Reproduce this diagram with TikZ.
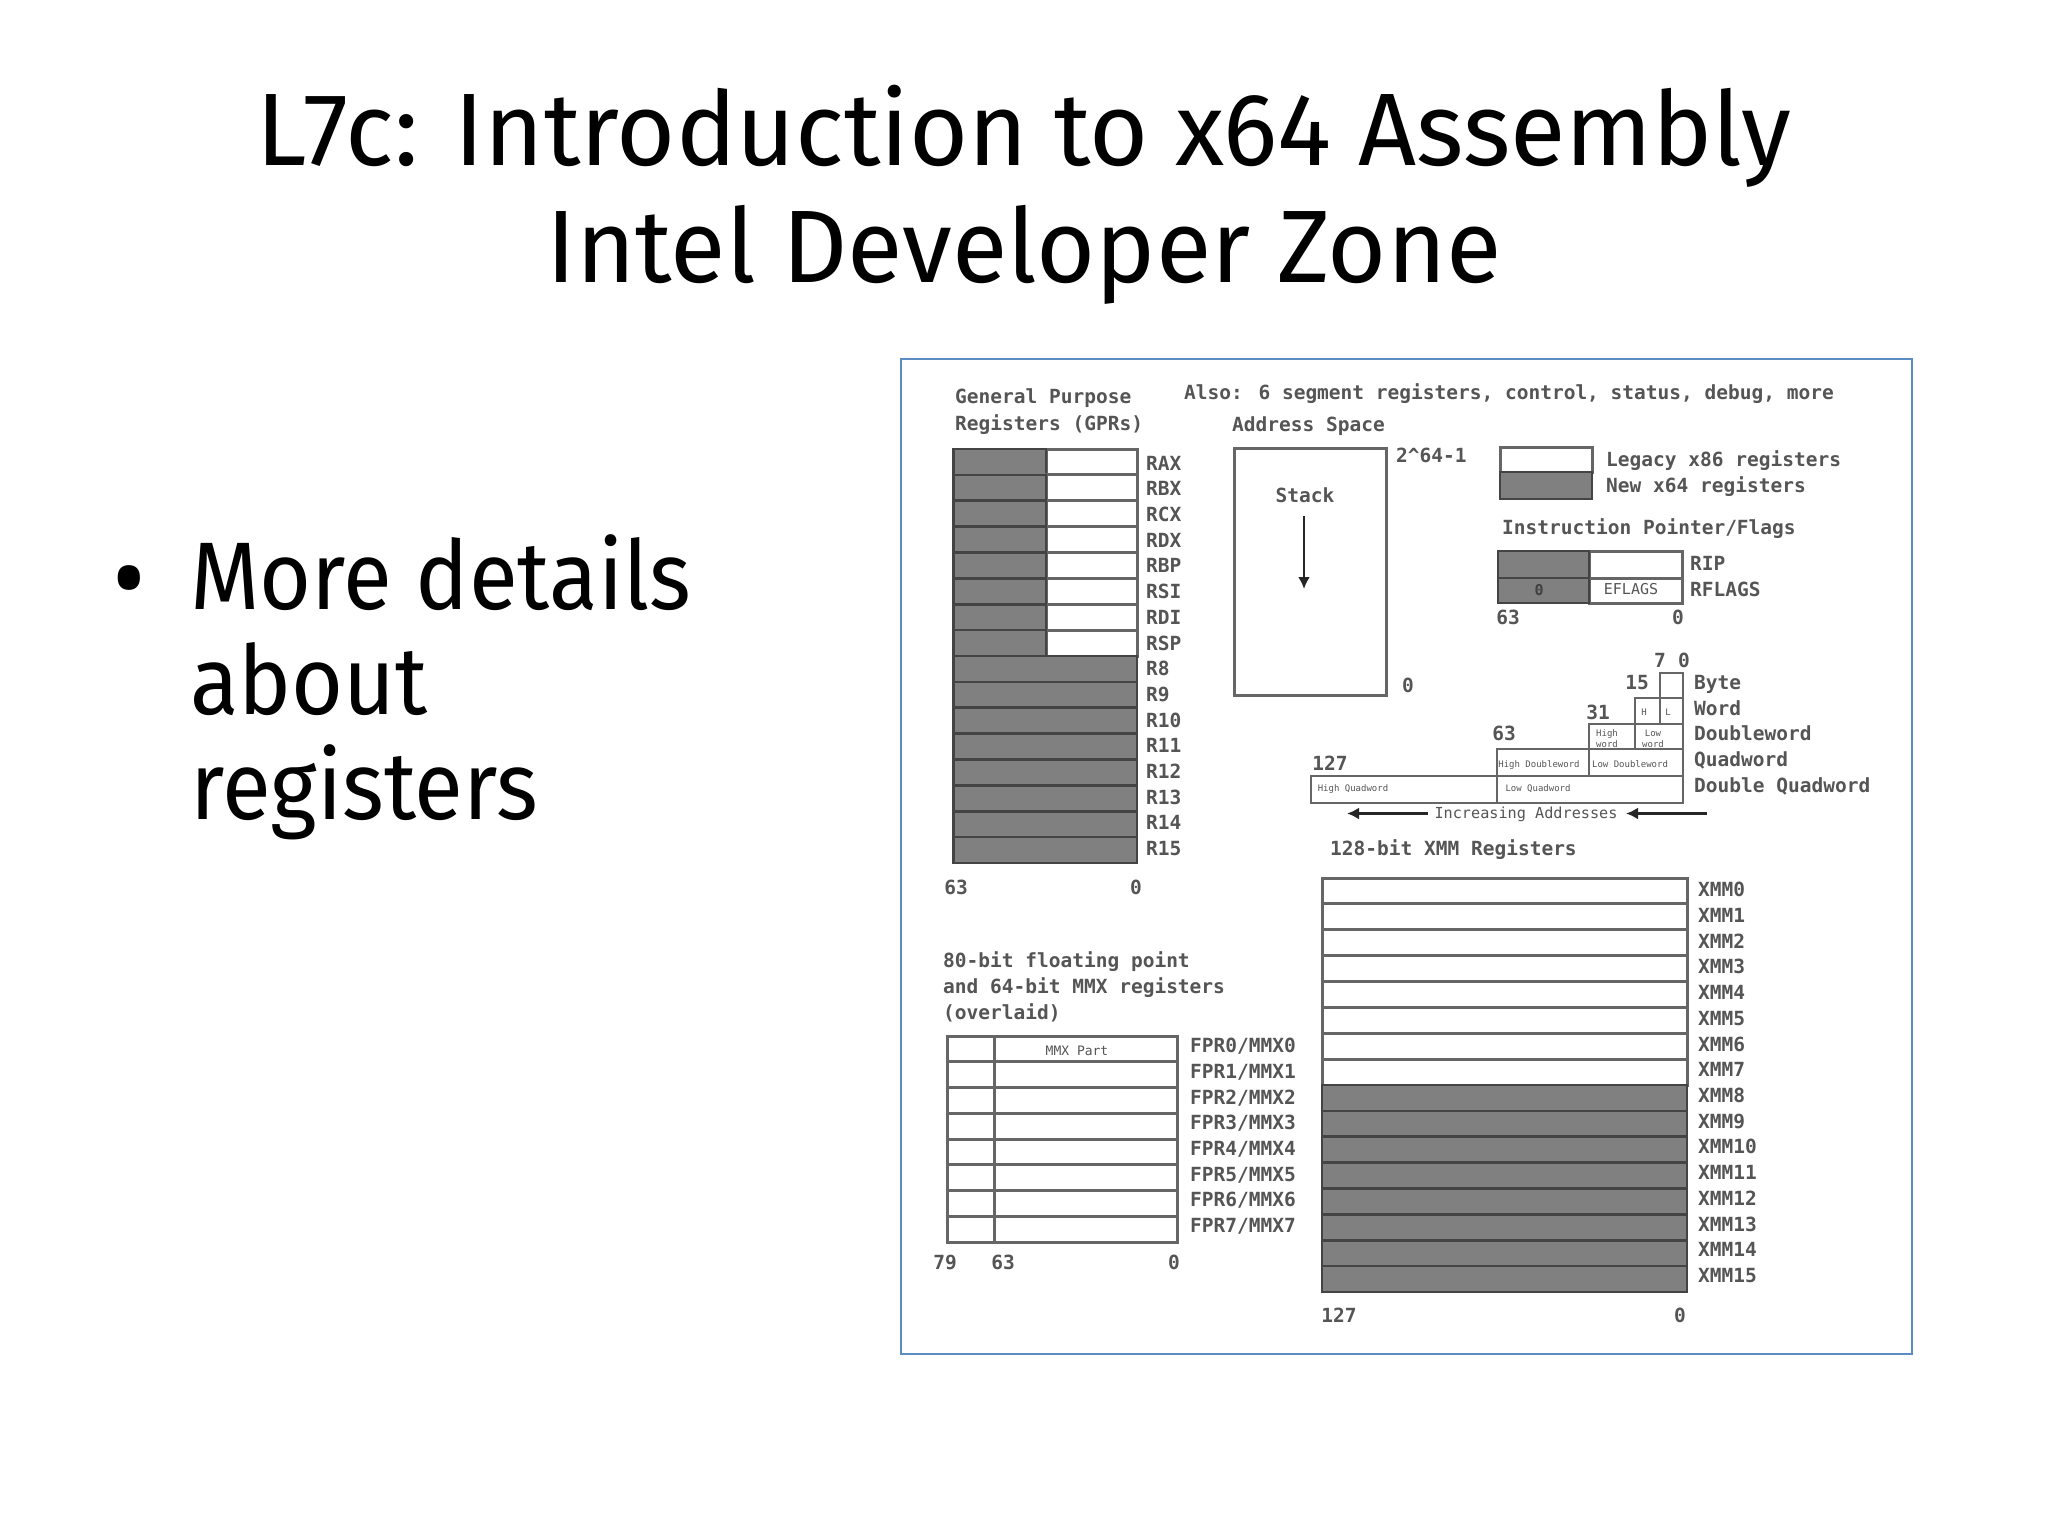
\documentclass[tikz,border=0pt]{standalone}
\usepackage{fontspec}
\setmainfont{Noto Sans}
\newfontfamily\regmono{DejaVu Sans Mono}
\newfontfamily\titlefont[FakeStretch=0.984]{Fira Sans}
\newfontfamily\bodyfont[FakeStretch=0.93]{Fira Sans}
\usetikzlibrary{arrows.meta}
\definecolor{ink}{HTML}{555555}
\definecolor{regline}{HTML}{666666}
\definecolor{darkline}{HTML}{444444}
\definecolor{regfill}{HTML}{808080}
\definecolor{frameblue}{HTML}{5B8DC4}
\newcommand{\regsize}[1]{\regmono\bfseries\fontsize{#1}{#1}\selectfont}
\newcommand{\smallsize}[1]{\regmono\fontsize{#1}{#1}\selectfont}
\tikzset{
  lbl/.style={font=\regsize{19.5},text=ink,inner sep=0pt,anchor=mid west,yshift=-4pt},
  num/.style={font=\regsize{19.5},text=ink,inner sep=0pt,anchor=mid,yshift=-4pt},
  tiny/.style={font=\smallsize{9},text=ink,inner sep=0pt,anchor=mid,yshift=-1.5pt},
  oldreg/.style={draw=regline,line width=3pt,fill=white},
  newreg/.style={draw=darkline,line width=2.6pt,fill=regfill},
  thinreg/.style={draw=regline,line width=2.4pt,fill=white},
  arr/.style={draw=black!85,line width=2.4pt,-{Latex[length=12pt,width=12pt]}},
  slidetitle/.style={font=\titlefont\fontsize{103}{103}\selectfont,text=black,inner sep=0pt,anchor=base},
  bodytext/.style={font=\bodyfont\fontsize{96}{96}\selectfont,text=black,inner sep=0pt,anchor=base west},
  bulletmark/.style={font=\fontsize{100}{100}\selectfont,text=black,inner sep=0pt,anchor=center}
}
\begin{document}
\begin{tikzpicture}[x=1pt,y=-1pt]
\useasboundingbox (0,0) rectangle (2048,1536);
\fill[white] (0,0) rectangle (2048,1536);
% slide text
\node[slidetitle] (title1) at (1024,165) {L7c: Introduction to x64 Assembly};
\node[slidetitle] (title2) at (1024,282) {Intel Developer Zone};
\node[bulletmark] (bullet) at (129,590) {•};
\node[bodytext] (body1) at (190,609) {More details};
\node[bodytext] (body2) at (190,714) {about};
\node[bodytext] (body3) at (190,819) {registers};
% frame
\draw[frameblue,line width=2pt] (901,358.5) rectangle (1912,1354);
% top notes
\node[lbl] (gprtitle1) at (955,397) {General Purpose};
\node[lbl] (gprtitle2) at (955,424) {Registers (GPRs)};
\node[lbl] (also) at (1184,393) {Also: 6 segment registers, control, status, debug, more};
\node[lbl] (addrtitle) at (1232,425) {Address Space};
% GPRs
\foreach \n [count=\i from 0] in {RAX,RBX,RCX,RDX,RBP,RSI,RDI,RSP}{
  \draw[oldreg] (1046,449+25.875*\i) rectangle (1137,449+25.875*\i+25.875);
  \draw[newreg] (953.5,449+25.875*\i) rectangle (1046,449+25.875*\i+25.875);
  \node[lbl] (gpr\n) at (1146,463.5+25.7*\i) {\n};
}
\foreach \n [count=\i from 8] in {R8,R9,R10,R11,R12,R13,R14,R15}{
  \draw[newreg] (953.5,449+25.875*\i) rectangle (1137,449+25.875*\i+25.875);
  \node[lbl] (gpr\n) at (1146,463.5+25.7*\i) {\n};
}
\node[num] (gprhi) at (956,888) {63};
\node[num] (gprlo) at (1136,888) {0};
% address space
\draw[oldreg] (1234,448) rectangle (1386,695);
\node[lbl] (addrtop) at (1396,456) {2\char`\^64-1};
\node[num] (addrzero) at (1408,686) {0};
\node[num] (stack) at (1305,496) {Stack};
\coordinate (stackA) at (1304,516);
\coordinate (stackB) at (1304,589);
\draw[arr] (stackA) -- (stackB);
% legend
\draw[oldreg] (1500,447) rectangle (1592,472);
\draw[newreg] (1500,472) rectangle (1592,499);
\node[lbl] (legold) at (1606,460) {Legacy x86 registers};
\node[lbl] (legnew) at (1606,486) {New x64 registers};
% RIP / RFLAGS
\node[lbl] (iptitle) at (1502,528) {Instruction Pointer/Flags};
\draw[oldreg] (1589,551) rectangle (1682,578);
\draw[oldreg] (1589,578) rectangle (1682,603);
\draw[newreg] (1498,551) rectangle (1589,578);
\draw[newreg] (1498,578) rectangle (1589,603);
\node[num,font=\regsize{15},text=black!75] (rfzero) at (1539,589) {0};
\node[num,font=\smallsize{15},yshift=1pt] (eflags) at (1631,589) {EFLAGS};
\node[lbl] (rip) at (1690,564) {RIP};
\node[lbl] (rflags) at (1690,590) {RFLAGS};
\node[num] (iphi) at (1508,618) {63};
\node[num] (iplo) at (1678,618) {0};
% data sizes
\draw[thinreg] (1660,673) rectangle (1683,698);
\draw[thinreg] (1635,698) rectangle (1660,724);
\draw[thinreg] (1660,698) rectangle (1683,724);
\draw[thinreg] (1589,724) rectangle (1635,749);
\draw[thinreg] (1635,724) rectangle (1683,749);
\draw[thinreg] (1497,749) rectangle (1589,776);
\draw[thinreg] (1589,749) rectangle (1683,776);
\draw[thinreg] (1311,776) rectangle (1497,803);
\draw[thinreg] (1497,776) rectangle (1683,803);
\node[tiny] (wordH) at (1644,711) {H};
\node[tiny] (wordL) at (1668,711) {L};
\node[tiny] (dwH1) at (1607,732) {High};
\node[tiny] (dwH2) at (1607,743) {word};
\node[tiny] (dwL1) at (1653,732) {Low};
\node[tiny] (dwL2) at (1653,743) {word};
\node[tiny] (qwH) at (1539,763) {High Doubleword};
\node[tiny] (qwL) at (1630,763) {Low Doubleword};
\node[tiny] (dqH) at (1353,787) {High Quadword};
\node[tiny] (dqL) at (1538,787) {Low Quadword};
\node[num] (bit7) at (1660,661) {7};
\node[num] (bit0) at (1684,661) {0};
\node[num] (bit15) at (1637,683) {15};
\node[num] (bit31) at (1598,713) {31};
\node[num] (bit63) at (1504,734) {63};
\node[num] (bit127) at (1330,764) {127};
\node[lbl] (szbyte) at (1694,683) {Byte};
\node[lbl] (szword) at (1694,709) {Word};
\node[lbl] (szdw) at (1694,734) {Doubleword};
\node[lbl] (szqw) at (1694,760) {Quadword};
\node[lbl] (szdq) at (1694,786) {Double Quadword};
\node[num,font=\smallsize{15.2},yshift=1.5pt] (incr) at (1526,813) {Increasing Addresses};
\coordinate (incrLeftA) at (1428,813.5);
\coordinate (incrLeftB) at (1347,813.5);
\coordinate (incrRightA) at (1707,813.5);
\coordinate (incrRightB) at (1626,813.5);
\draw[arr] (incrLeftA) -- (incrLeftB);
\draw[arr] (incrRightA) -- (incrRightB);
% XMM
\node[lbl] (xmmtitle) at (1330,849) {128-bit XMM Registers};
\foreach \i in {0,...,7}{
  \draw[oldreg] (1322,878+25.875*\i) rectangle (1687,878+25.875*\i+25.875);
  \node[lbl] (xmm\i) at (1698,890+25.73*\i) {XMM\i};
}
\foreach \i in {8,...,15}{
  \draw[newreg] (1322,878+25.875*\i) rectangle (1687,878+25.875*\i+25.875);
  \node[lbl] (xmm\i) at (1698,890+25.73*\i) {XMM\i};
}
\node[num] (xmmhi) at (1339,1316) {127};
\node[num] (xmmlo) at (1680,1316) {0};
% FPR / MMX
\node[lbl] (fpt1) at (943,961) {80-bit floating point};
\node[lbl] (fpt2) at (943,987) {and 64-bit MMX registers};
\node[lbl] (fpt3) at (943,1013) {(overlaid)};
\foreach \i in {0,...,7}{
  \draw[oldreg] (947,1036+25.75*\i) rectangle (994,1036+25.75*\i+25.75);
  \draw[oldreg] (994,1036+25.75*\i) rectangle (1177,1036+25.75*\i+25.75);
  \node[lbl] (fpr\i) at (1190,1046+25.7*\i) {FPR\i/MMX\i};
}
\node[num,font=\smallsize{13}] (mmxpart) at (1077,1049) {MMX Part};
\node[num] (fphi) at (945,1263) {79};
\node[num] (fpmid) at (1003,1263) {63};
\node[num] (fplo) at (1174,1263) {0};
\end{tikzpicture}
\end{document}
